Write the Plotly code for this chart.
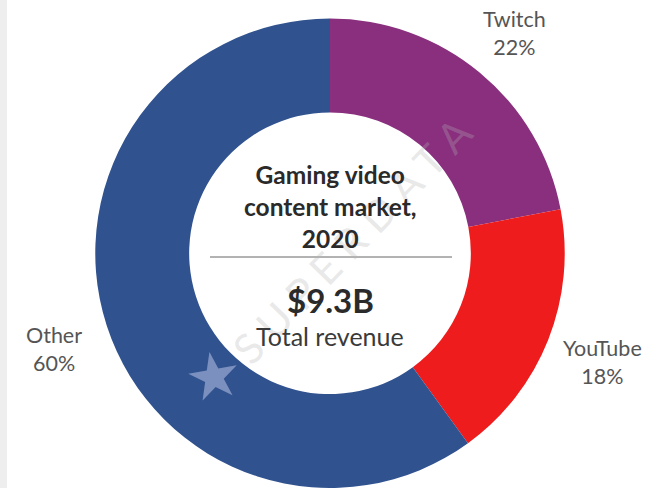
import plotly.graph_objects as go

# ---- data ----
labels = ["Twitch", "YouTube", "Other"]
shares = [22, 18, 60]
colors = ["#8A2F7E", "#EE1C1C", "#30528F"]
title_lines = ["Gaming video", "content market,", "2020"]
total_value = "$9.3B"
total_label = "Total revenue"

W, H = 666, 488

def px(x):
    return x / W

def py(y):
    return 1 - y / H

fig = go.Figure()
fig.add_trace(go.Pie(
    labels=labels,
    values=shares,
    sort=False,
    direction="clockwise",
    rotation=0,
    hole=0.6,
    marker=dict(colors=colors, line=dict(width=0)),
    textinfo="none",
    hoverinfo="label+percent",
    domain=dict(x=[0, 0.991], y=[0, 0.962]),
    showlegend=False,
))

label_pos = {"Twitch": (514, 33), "YouTube": (602, 362), "Other": (54, 349)}
annotations = []
for lab, val in zip(labels, shares):
    x, y = label_pos[lab]
    annotations.append(dict(
        x=px(x), y=py(y), xref="paper", yref="paper",
        text=f"{lab}<br>{val}%", showarrow=False,
        font=dict(family="Lato", size=21.5, color="#555555"),
        xanchor="center", yanchor="middle", align="center",
    ))

# watermark
annotations.append(dict(
    x=px(352), y=py(240), xref="paper", yref="paper",
    text="S U P E R D A T A", showarrow=False, textangle=-46,
    font=dict(family="Lato", size=42, color="rgba(180,180,180,0.3)"),
    xanchor="center", yanchor="middle",
))
annotations.append(dict(
    x=px(213), y=py(376), xref="paper", yref="paper",
    text="★", showarrow=False, textangle=-10,
    font=dict(family="DejaVu Sans", size=64, color="rgba(185,195,230,0.55)"),
    xanchor="center", yanchor="middle",
))

annotations.append(dict(
    x=px(330), y=py(206), xref="paper", yref="paper",
    text="<br>".join(f"<b>{t}</b>" for t in title_lines), showarrow=False,
    font=dict(family="Lato", size=24.5, color="#2a2a2a"),
    xanchor="center", yanchor="middle", align="center",
))
annotations.append(dict(
    x=px(330), y=py(300), xref="paper", yref="paper",
    text=f"<b>{total_value}</b>", showarrow=False,
    font=dict(family="Lato", size=33, color="#2a2a2a"),
    xanchor="center", yanchor="middle",
))
annotations.append(dict(
    x=px(330), y=py(336), xref="paper", yref="paper",
    text=total_label, showarrow=False,
    font=dict(family="Lato", size=25, color="#3a3a3a"),
    xanchor="center", yanchor="middle",
))

shapes = [
    dict(type="line", xref="paper", yref="paper",
         x0=px(210), x1=px(452), y0=py(257), y1=py(257),
         line=dict(color="#666666", width=1)),
    dict(type="rect", xref="paper", yref="paper",
         x0=0, x1=px(7), y0=0, y1=1,
         fillcolor="#EEEEEE", line=dict(width=0), layer="below"),
]

fig.update_layout(
    width=W, height=H,
    margin=dict(l=0, r=0, t=0, b=0),
    paper_bgcolor="white",
    plot_bgcolor="white",
    annotations=annotations,
    shapes=shapes,
)

fig.write_html(
    "out.html",
    config={"displayModeBar": False},
    post_script="document.body.style.margin='0';document.body.style.overflow='hidden';",
)
